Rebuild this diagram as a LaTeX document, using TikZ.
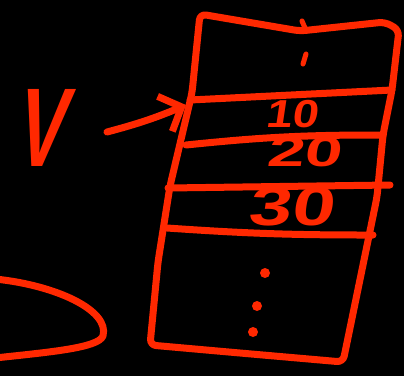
\documentclass[tikz,border=0pt]{standalone}
\usepackage{fontspec}
\setmainfont{Liberation Sans}
\usetikzlibrary{arrows.meta}
\definecolor{handred}{RGB}{255,40,0}
\tikzset{
  pen/.style={draw=handred, line width=7pt, line cap=round, line join=round},
  digits/.style={text=handred, inner sep=0pt, xslant=0.15},
  dotmark/.style={fill=handred, circle, minimum size=10pt, inner sep=0pt},
}
\begin{document}
\begin{tikzpicture}[x=1pt,y=-1pt]
\fill[black] (0,0) rectangle (404,376);
\useasboundingbox (0,0) rectangle (404,376);
% stack frame
\draw[pen, rounded corners=6pt] (200,14) -- (300,31) -- (385,22) -- (399,30) -- (392,90)
  -- (383,135) -- (377,197) -- (343,362) -- (240,353) -- (150,345) -- (158,262)
  -- (170,186) -- (192,93) -- cycle;
% slot lines
\draw[pen] (190,100) -- (392,90);
\draw[pen] (186,145) to[bend left=3] (383,135);
\draw[pen] (168,188) -- (390,185);
\draw[pen] (167,228) to[bend right=2] (373,235);
% values
\node[digits, font=\bfseries\fontsize{39}{39}\selectfont, xscale=1.2] (v10) at (294,114) {10};
\node[digits, font=\bfseries\fontsize{42}{42}\selectfont, xscale=1.6] (v20) at (306,152) {20};
\node[digits, font=\bfseries\fontsize{55}{55}\selectfont, xscale=1.4] (v30) at (293,207) {30};
% ellipsis marks
\draw[pen, line width=5pt] (302,21) -- (305,28);
\draw[pen, line width=5pt] (306,54) -- (303,64);
\node[dotmark] (d1) at (265,273) {};
\node[dotmark] (d2) at (257,306) {};
\node[dotmark] (d3) at (253,332) {};
% variable V
\node[text=handred, inner sep=0pt, font=\bfseries\fontsize{112}{112}\selectfont, xscale=0.66, xslant=0.3] (V) at (45,128) {V};
\coordinate (arrs) at (107,132);
\coordinate (arre) at (186,105);
\draw[pen, -{Straight Barb[length=18pt,width=38pt]}] (arrs) to[bend right=4] (arre);
% blob
\draw[pen] (-5,279) .. controls (55,285) and (110,310) .. (103,336) .. controls (98,348) and (50,352) .. (-5,358);
\end{tikzpicture}
\end{document}
